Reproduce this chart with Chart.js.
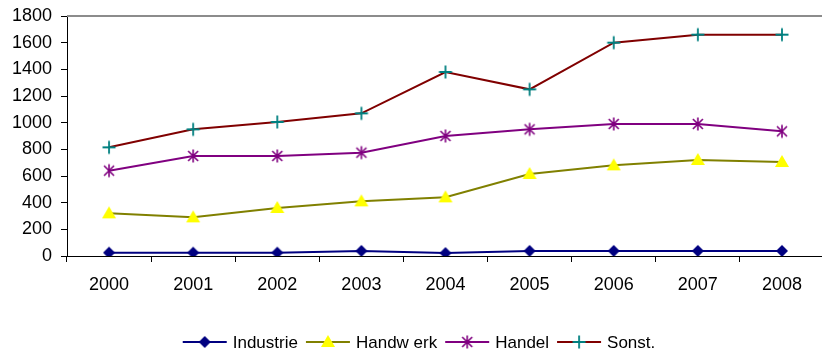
<!DOCTYPE html>
<html>
<head>
<meta charset="utf-8">
<script src="https://cdn.jsdelivr.net/npm/chart.js@4/dist/chart.umd.min.js"></script>
<style>
  html, body { margin: 0; padding: 0; background: #fff; }
  #wrap { width: 822px; height: 356px; overflow: hidden; }
</style>
</head>
<body>
<div id="wrap"><canvas id="chart" width="832" height="356"></canvas></div>
<script>
const years = ['2000', '2001', '2002', '2003', '2004', '2005', '2006', '2007', '2008'];
const industrie = [25, 25, 25, 38, 22, 38, 38, 38, 38];
const handwerk = [320, 290, 360, 410, 440, 615, 680, 720, 705];
const handel = [640, 750, 750, 775, 900, 950, 990, 990, 935];
const sonst = [815, 950, 1005, 1070, 1380, 1250, 1600, 1660, 1660];
const seriesNames = ['Industrie', 'Handw erk', 'Handel', 'Sonst.'];

Chart.defaults.font.family = '"Liberation Sans", Arial, sans-serif';
Chart.defaults.color = '#000';

// small canvases used as point markers (and again in the legend)
function marker(kind) {
  const c = document.createElement('canvas');
  c.width = 16; c.height = 16;
  const g = c.getContext('2d');
  const m = 8;
  g.beginPath();
  if (kind === 'diamond') {
    g.moveTo(m, m - 6); g.lineTo(m + 6, m); g.lineTo(m, m + 6); g.lineTo(m - 6, m);
    g.closePath();
    g.fillStyle = '#000080';
    g.fill();
  } else if (kind === 'triangle') {
    g.moveTo(m, m - 7); g.lineTo(m + 7, m + 5); g.lineTo(m - 7, m + 5);
    g.closePath();
    g.fillStyle = '#ffff00';
    g.fill();
  } else if (kind === 'asterisk') {
    g.moveTo(m - 5, m - 5); g.lineTo(m + 5, m + 5);
    g.moveTo(m + 5, m - 5); g.lineTo(m - 5, m + 5);
    g.moveTo(m, m - 6.5); g.lineTo(m, m + 6.5);
    g.strokeStyle = '#800080';
    g.lineWidth = 1.6;
    g.stroke();
  } else {
    g.moveTo(m - 6.5, m); g.lineTo(m + 6.5, m);
    g.moveTo(m, m - 6.5); g.lineTo(m, m + 6.5);
    g.strokeStyle = '#008080';
    g.lineWidth = 1.8;
    g.stroke();
  }
  return c;
}

const markers = [marker('diamond'), marker('triangle'), marker('asterisk'), marker('plus')];

function series(i, values, color) {
  return {
    label: seriesNames[i],
    data: values,
    borderColor: color,
    backgroundColor: color,
    borderWidth: 2,
    tension: 0,
    pointStyle: markers[i],
    pointRadius: 6,
    pointHoverRadius: 6
  };
}

// gray frame line across the top of the plot
const topLine = {
  id: 'topLine',
  beforeDatasetsDraw(chart) {
    const { ctx, chartArea } = chart;
    ctx.save();
    ctx.strokeStyle = '#8c8c8c';
    ctx.lineWidth = 2;
    ctx.beginPath();
    ctx.moveTo(chartArea.left, chartArea.top);
    ctx.lineTo(chartArea.right, chartArea.top);
    ctx.stroke();
    ctx.restore();
  }
};

// legend with line + marker samples, centered below the axis
const lineLegend = {
  id: 'lineLegend',
  afterDraw(chart) {
    const ctx = chart.ctx;
    const sets = chart.data.datasets;
    const y = 342, sample = 44, gap = 6, spacing = 8;
    ctx.save();
    ctx.font = '17px "Liberation Sans", Arial, sans-serif';
    ctx.textBaseline = 'middle';
    ctx.textAlign = 'left';
    let total = 0;
    sets.forEach((ds, i) => {
      total += sample + gap + ctx.measureText(ds.label).width;
      if (i < sets.length - 1) total += spacing;
    });
    let x = 419 - total / 2;
    sets.forEach((ds) => {
      ctx.strokeStyle = ds.borderColor;
      ctx.lineWidth = 2;
      ctx.beginPath();
      ctx.moveTo(x, y);
      ctx.lineTo(x + sample, y);
      ctx.stroke();
      const img = ds.pointStyle;
      ctx.drawImage(img, x + sample / 2 - img.width / 2, y - img.height / 2);
      ctx.fillStyle = '#000';
      ctx.fillText(ds.label, x + sample + gap, y + 1);
      x += sample + gap + ctx.measureText(ds.label).width + spacing;
    });
    ctx.restore();
  }
};

new Chart(document.getElementById('chart'), {
  type: 'line',
  data: {
    labels: years,
    datasets: [
      series(0, industrie, '#000080'),
      series(1, handwerk, '#808000'),
      series(2, handel, '#800080'),
      series(3, sonst, '#800000')
    ]
  },
  options: {
    responsive: false,
    animation: false,
    layout: { padding: { top: 16, left: 0, right: 0, bottom: 0 } },
    plugins: {
      legend: { display: false },
      tooltip: { enabled: false }
    },
    scales: {
      x: {
        offset: true,
        afterFit(scale) { scale.height = 100; },
        border: { color: '#000', width: 1 },
        grid: { offset: true, drawOnChartArea: false, color: '#000', tickLength: 6 },
        ticks: { font: { size: 18 }, padding: 12, maxRotation: 0 }
      },
      y: {
        min: 0,
        max: 1800,
        afterFit(scale) {
          scale.width = 67;
          scale.paddingTop = 0;
          scale.paddingBottom = 0;
        },
        border: { color: '#000', width: 1 },
        grid: { drawOnChartArea: false, color: '#000', tickLength: 6 },
        ticks: { stepSize: 200, font: { size: 18 }, padding: 9, callback: (v) => String(v) }
      }
    }
  },
  plugins: [topLine, lineLegend]
});
</script>
</body>
</html>
